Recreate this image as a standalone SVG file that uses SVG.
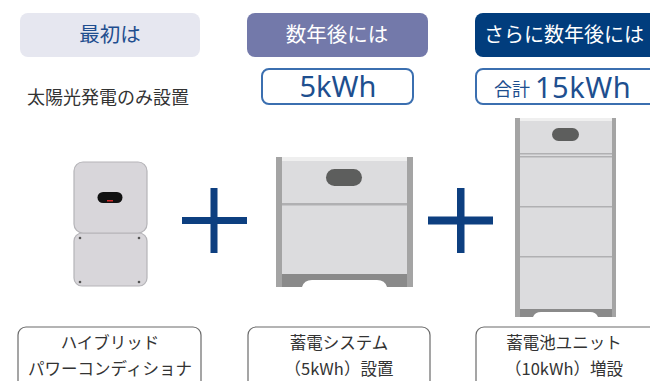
<svg xmlns="http://www.w3.org/2000/svg" width="650" height="381" viewBox="0 0 650 381">
  <defs>
    <style>
      text { font-family: "Noto Sans CJK JP", "Noto Sans", sans-serif; }
      .head { font-size: 20.5px; text-anchor: middle; }
      .cap { font-size: 16.5px; fill: #333; text-anchor: middle; }
      .lbl { fill: #fff; stroke: #6a6a6a; stroke-width: 1.2; }
      .cap-box { fill: #fff; stroke: #3b6fb0; stroke-width: 2; }
      .kwh { font-family: "Noto Sans", sans-serif; fill: #1e4f8f; }
      .plus { fill: #0d3f80; }
      .rail { fill: #a4a4a4; }
      .panel { fill: #dcdcde; }
      .seam { fill: #b0b0b2; }
      .base { fill: #8a8a8a; }
      .handle { fill: #5d5e5d; }
      .screw { fill: #555; }
    </style>
  </defs>

  <!-- headers -->
  <g id="head-first">
    <rect x="20" y="13" width="180" height="44" rx="8" fill="#e6e7f0"/>
    <text class="head" x="110" y="42" fill="#1f4e8f">最初は</text>
  </g>
  <g id="head-later">
    <rect x="247" y="13" width="181" height="44" rx="8" fill="#7379aa"/>
    <text class="head" x="337" y="42" fill="#fff">数年後には</text>
  </g>
  <g id="head-further">
    <rect x="475" y="13" width="190" height="44" rx="8" fill="#013d7d"/>
    <text x="484" y="42" font-size="20" fill="#fff">さらに数年後には</text>
  </g>

  <!-- capacity / notes -->
  <g id="note-solar">
    <text x="27" y="104" font-size="18" fill="#333">太陽光発電のみ設置</text>
  </g>
  <g id="cap-5kwh">
    <rect class="cap-box" x="262" y="69" width="151" height="35" rx="7"/>
    <text class="kwh" x="338" y="97" font-size="29" text-anchor="middle">5kWh</text>
  </g>
  <g id="cap-15kwh">
    <rect class="cap-box" x="476" y="69" width="190" height="35" rx="7"/>
    <text x="494" y="96" font-size="18" fill="#1e4f8f">合計</text>
    <text class="kwh" x="535" y="98" font-size="29" letter-spacing="0.5">15kWh</text>
  </g>

  <!-- hybrid power conditioner -->
  <g id="inverter">
    <rect x="74" y="233" width="73" height="53" rx="8" fill="#d8d6da" stroke="#b5b4b8" stroke-width="1.2"/>
    <rect x="74" y="162" width="73" height="71" rx="9" fill="#d8d6da" stroke="#b5b4b8" stroke-width="1.2"/>
    <rect x="97.5" y="192" width="25" height="11" rx="5.5" fill="#111"/>
    <rect x="107" y="200" width="6" height="1.5" fill="#d42b2b"/>
    <circle class="screw" cx="80" cy="238" r="1.3"/>
    <circle class="screw" cx="139" cy="238" r="1.3"/>
    <circle class="screw" cx="80" cy="282" r="1.3"/>
    <circle class="screw" cx="139" cy="282" r="1.3"/>
  </g>

  <!-- plus signs -->
  <g id="plus-1">
    <rect class="plus" x="210.5" y="188" width="7" height="65"/>
    <rect class="plus" x="182" y="217" width="65" height="7"/>
  </g>
  <g id="plus-2">
    <rect class="plus" x="457" y="188" width="7.5" height="65"/>
    <rect class="plus" x="428" y="216.5" width="65" height="8"/>
  </g>

  <!-- storage system 5kWh -->
  <g id="battery-5kwh">
    <rect class="panel" x="276" y="157" width="137" height="130"/>
    <rect x="282" y="157" width="125" height="4" fill="#efefef"/>
    <rect class="seam" x="282" y="203" width="125" height="2.5"/>
    <rect class="base" x="282" y="274" width="125" height="13"/>
    <path d="M302 287 Q304 280 312 280 L377 280 Q385 280 387 287 Z" fill="#fff"/>
    <rect class="rail" x="276" y="157" width="6" height="130"/>
    <rect class="rail" x="407" y="157" width="6" height="130"/>
    <rect class="handle" x="326" y="169" width="36" height="17" rx="8.5"/>
  </g>

  <!-- storage system 15kWh -->
  <g id="battery-15kwh">
    <rect class="panel" x="515" y="118" width="100" height="199"/>
    <rect x="520" y="118" width="92" height="3" fill="#efefef"/>
    <rect class="seam" x="520" y="153" width="92" height="1.5"/>
    <rect class="seam" x="520" y="156" width="92" height="1.5"/>
    <rect class="seam" x="520" y="206" width="92" height="1.5"/>
    <rect class="seam" x="520" y="256" width="92" height="1.5"/>
    <rect class="base" x="520" y="309" width="92" height="8"/>
    <path d="M533 317 Q535 312 541 312 L590 312 Q596 312 598 317 Z" fill="#fff"/>
    <rect class="rail" x="515" y="118" width="5" height="199"/>
    <rect class="rail" x="612" y="118" width="4" height="199"/>
    <rect class="handle" x="552" y="128" width="27" height="13" rx="6.5"/>
  </g>

  <!-- captions -->
  <g id="label-inverter">
    <rect class="lbl" x="18" y="327" width="183" height="70" rx="8"/>
    <text class="cap" x="110" y="349">ハイブリッド</text>
    <text class="cap" x="110" y="375">パワーコンディショナ</text>
  </g>
  <g id="label-system">
    <rect class="lbl" x="248" y="327" width="182" height="70" rx="8"/>
    <text class="cap" x="339" y="349">蓄電システム</text>
    <text class="cap" x="339" y="375">（5kWh）設置</text>
  </g>
  <g id="label-unit">
    <rect class="lbl" x="476" y="327" width="190" height="70" rx="8"/>
    <text class="cap" x="564" y="349">蓄電池ユニット</text>
    <text class="cap" x="564" y="375">（10kWh）増設</text>
  </g>
</svg>
